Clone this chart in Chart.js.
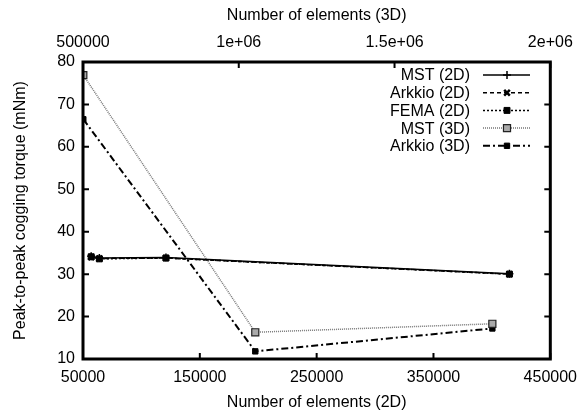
<!DOCTYPE html>
<html>
<head>
<meta charset="utf-8">
<script src="https://cdn.jsdelivr.net/npm/chart.js@4/dist/chart.umd.min.js"></script>
<style>
html,body{margin:0;padding:0;background:#fff;}
#c{display:block;}
</style>
</head>
<body>
<canvas id="c" width="586" height="414"></canvas>
<script>
// ---- data ----
const elements2D = [57000, 64000, 121000, 415000];
const mst2D      = [34.2, 33.8, 33.9, 30.1];
const arkkio2D   = [34.0, 33.7, 33.8, 30.0];
const fema2D     = [34.1, 33.6, 33.8, 30.0];

const elements3D = [501000, 1053000, 1814000];
const mst3D      = [76.9, 16.3, 18.3];
const arkkio3D   = [66.5, 11.8, 17.2];

const seriesNames = ['MST (2D)', 'Arkkio (2D)', 'FEMA (2D)', 'MST (3D)', 'Arkkio (3D)'];
const xTicks2D = [50000, 150000, 250000, 350000, 450000];
const xTicks3D = [500000, 1000000, 1500000, 2000000];
const yTicks = [10, 20, 30, 40, 50, 60, 70, 80];

const FONT = "'Liberation Sans', Arial, Helvetica, sans-serif";
Chart.defaults.font.family = FONT;
Chart.defaults.font.size = 16;
Chart.defaults.color = '#000';

const pts = (xs, ys) => xs.map((x, i) => ({x: x, y: ys[i]}));

function fmt3D(v) {
  if (v >= 1e6) return (v / 1e6) + 'e+06';
  return String(v);
}

const innerTicks = {
  id: 'innerTicks',
  afterDatasetsDraw(chart) {
    const ctx = chart.ctx;
    const a = chart.chartArea;
    const L = 6;
    ctx.save();
    ctx.strokeStyle = '#000';
    ctx.lineWidth = 2;
    ctx.beginPath();
    const ys = chart.scales.y;
    yTicks.forEach(v => {
      const p = ys.getPixelForValue(v);
      ctx.moveTo(a.left, p); ctx.lineTo(a.left + L, p);
      ctx.moveTo(a.right, p); ctx.lineTo(a.right - L, p);
    });
    const xs = chart.scales.x;
    xTicks2D.forEach(v => {
      const p = xs.getPixelForValue(v);
      ctx.moveTo(p, a.bottom); ctx.lineTo(p, a.bottom - L);
    });
    const x2 = chart.scales.x2;
    xTicks3D.forEach(v => {
      const p = x2.getPixelForValue(v);
      ctx.moveTo(p, a.top); ctx.lineTo(p, a.top + L);
    });
    ctx.stroke();
    ctx.lineWidth = 3;
    ctx.strokeRect(a.left, a.top, a.right - a.left, a.bottom - a.top);
    ctx.restore();
  }
};

const gnuLegend = {
  id: 'gnuLegend',
  afterDatasetsDraw(chart) {
    const ctx = chart.ctx;
    const textRight = 470, x0 = 483, x1 = 530, xm = 507;
    const y0 = 75, dy = 17.7;
    ctx.save();
    ctx.font = '16px ' + FONT;
    ctx.textAlign = 'right';
    ctx.textBaseline = 'middle';
    chart.data.datasets.forEach((ds, i) => {
      const y = y0 + i * dy;
      ctx.fillStyle = '#000';
      ctx.fillText(ds.label, textRight, y + 1);
      ctx.strokeStyle = ds.borderColor;
      ctx.lineWidth = ds.borderWidth;
      ctx.setLineDash(ds.borderDash || []);
      ctx.beginPath();
      ctx.moveTo(x0, y); ctx.lineTo(x1, y);
      ctx.stroke();
      ctx.setLineDash([]);
      ctx.save();
      ctx.fillStyle = ds.pointBackgroundColor;
      ctx.strokeStyle = ds.pointBorderColor;
      ctx.lineWidth = ds.pointBorderWidth;
      Chart.helpers.drawPoint(ctx, {
        pointStyle: ds.pointStyle,
        radius: ds.pointRadius,
        borderWidth: ds.pointBorderWidth,
        rotation: 0
      }, xm, y);
      ctx.restore();
    });
    ctx.restore();
  }
};

new Chart(document.getElementById('c'), {
  type: 'line',
  data: {
    datasets: [
      {
        label: seriesNames[0], data: pts(elements2D, mst2D), xAxisID: 'x', yAxisID: 'y',
        borderColor: '#000', borderWidth: 1.5, borderDash: [],
        pointStyle: 'cross', pointRadius: 4, pointBorderWidth: 1.5,
        pointBackgroundColor: '#000', pointBorderColor: '#000'
      },
      {
        label: seriesNames[1], data: pts(elements2D, arkkio2D), xAxisID: 'x', yAxisID: 'y',
        borderColor: '#000', borderWidth: 1.5, borderDash: [4, 3],
        pointStyle: 'crossRot', pointRadius: 4, pointBorderWidth: 2.5,
        pointBackgroundColor: '#000', pointBorderColor: '#000'
      },
      {
        label: seriesNames[2], data: pts(elements2D, fema2D), xAxisID: 'x', yAxisID: 'y',
        borderColor: '#000', borderWidth: 1.5, borderDash: [2, 2],
        pointStyle: 'rect', pointRadius: 4.2, pointBorderWidth: 1,
        pointBackgroundColor: '#000', pointBorderColor: '#000'
      },
      {
        label: seriesNames[3], data: pts(elements3D, mst3D), xAxisID: 'x2', yAxisID: 'y',
        borderColor: '#777', borderWidth: 1.5, borderDash: [1, 1],
        pointStyle: 'rect', pointRadius: 5, pointBorderWidth: 1.2,
        pointBackgroundColor: '#aaa', pointBorderColor: '#222'
      },
      {
        label: seriesNames[4], data: pts(elements3D, arkkio3D), xAxisID: 'x2', yAxisID: 'y',
        borderColor: '#000', borderWidth: 2, borderDash: [7, 3, 2, 3],
        pointStyle: 'rect', pointRadius: 3.8, pointBorderWidth: 1,
        pointBackgroundColor: '#000', pointBorderColor: '#000'
      }
    ]
  },
  options: {
    responsive: false,
    animation: false,
    layout: {padding: {left: 0, right: 34, top: 0, bottom: 0}},
    plugins: {legend: {display: false}, tooltip: {enabled: false}},
    scales: {
      x: {
        type: 'linear', position: 'bottom', min: 50000, max: 450000,
        afterBuildTicks: s => { s.ticks = xTicks2D.map(v => ({value: v})); },
        afterFit: s => { s.height = 55; },
        grid: {display: false, drawTicks: false},
        border: {display: false},
        ticks: {padding: 9, maxRotation: 0, autoSkip: false, callback: v => String(v)},
        title: {display: true, text: 'Number of elements (2D)', padding: {top: 2, bottom: 2}}
      },
      x2: {
        type: 'linear', position: 'top', min: 500000, max: 2000000,
        afterBuildTicks: s => { s.ticks = xTicks3D.map(v => ({value: v})); },
        afterFit: s => { s.height = 62; },
        grid: {display: false, drawTicks: false},
        border: {display: false},
        ticks: {padding: 10, maxRotation: 0, autoSkip: false, callback: v => fmt3D(v)},
        title: {display: true, text: 'Number of elements (3D)', padding: {top: 6, bottom: 2}}
      },
      y: {
        type: 'linear', position: 'left', min: 10, max: 80,
        afterBuildTicks: s => { s.ticks = yTicks.map(v => ({value: v})); },
        afterFit: s => { s.width = 83; },
        grid: {display: false, drawTicks: false},
        border: {display: false},
        ticks: {padding: 8, callback: v => String(v)},
        title: {display: true, text: 'Peak-to-peak cogging torque (mNm)', padding: {top: 11, bottom: 2}}
      }
    }
  },
  plugins: [innerTicks, gnuLegend]
});
</script>
</body>
</html>
